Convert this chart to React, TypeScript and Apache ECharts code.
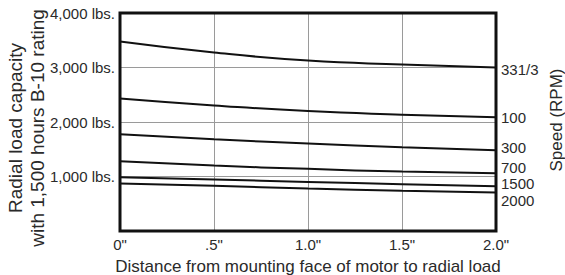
import React, { useEffect, useRef } from "react";
import * as echarts from "echarts";

const distances = [0, 0.5, 1.0, 1.5, 2.0];
const xTickLabels = ['0"', '.5"', '1.0"', '1.5"', '2.0"'];
const yTickLabels = ["", "1,000 lbs.", "2,000 lbs.", "3,000 lbs.", "4,000 lbs."];
const speedNames = ["331/3", "100", "300", "700", "1500", "2000"];
const rpm33 = [3475, 3274, 3128, 3055, 3000];
const rpm100 = [2433, 2305, 2200, 2135, 2085];
const rpm300 = [1774, 1683, 1605, 1537, 1482];
const rpm700 = [1280, 1200, 1140, 1090, 1060];
const rpm1500 = [988, 945, 900, 860, 823];
const rpm2000 = [873, 830, 780, 740, 708];
const seriesValues = [rpm33, rpm100, rpm300, rpm700, rpm1500, rpm2000];
const labelOffsets = [[0, 2], [0, 0], [0, -3], [0, -6], [0, -3], [0, 8]];

const FONT = "'Liberation Sans', Arial, sans-serif";
const TXT = "#2a2a2a";

export default function App() {
  const ref = useRef<HTMLDivElement>(null);
  useEffect(() => {
    const chart = echarts.init(ref.current!, null, { renderer: "svg" });
    chart.setOption({
      animation: false,
      textStyle: { fontFamily: FONT },
      grid: {
        left: 120,
        right: 69,
        top: 13,
        bottom: 44,
        show: true,
        borderColor: "#111",
        borderWidth: 3,
        z: 3,
      },
      xAxis: {
        type: "value",
        min: 0,
        max: 2,
        interval: 0.5,
        axisLine: { show: false },
        axisTick: { show: false },
        splitLine: { show: true, lineStyle: { color: "#9a9a9a", width: 1 } },
        axisLabel: {
          fontSize: 15,
          color: TXT,
          fontFamily: FONT,
          margin: 6,
          formatter: (v: number) => xTickLabels[Math.round(v / 0.5)] ?? "",
        },
      },
      yAxis: {
        type: "value",
        min: 0,
        max: 4000,
        interval: 1000,
        axisLine: { show: false },
        axisTick: { show: false },
        splitLine: { show: true, lineStyle: { color: "#9a9a9a", width: 1 } },
        axisLabel: {
          fontSize: 15,
          color: TXT,
          fontFamily: FONT,
          margin: 5,
          formatter: (v: number) => yTickLabels[Math.round(v / 1000)] ?? "",
        },
      },
      series: seriesValues.map((vals, i) => ({
        type: "line",
        name: speedNames[i],
        data: vals.map((v, j) => [distances[j], v]),
        smooth: 0.5,
        showSymbol: false,
        symbol: "none",
        lineStyle: { color: "#111", width: 2 },
        endLabel: {
          show: true,
          formatter: speedNames[i],
          fontSize: 15,
          lineHeight: 14,
          color: TXT,
          fontFamily: FONT,
          distance: 5,
          offset: labelOffsets[i],
        },
        z: 2,
      })),
      graphic: [
        {
          type: "text",
          x: 26,
          y: 128,
          rotation: Math.PI / 2,
          style: {
            text: "Radial load capacity\nwith 1,500 hours B-10 rating",
            fontSize: 19,
            lineHeight: 22,
            fontFamily: FONT,
            fill: TXT,
            textAlign: "center",
            textVerticalAlign: "middle",
          },
        },
        {
          type: "text",
          x: 556,
          y: 120,
          rotation: Math.PI / 2,
          style: {
            text: "Speed (RPM)",
            fontSize: 17,
            fontFamily: FONT,
            fill: TXT,
            textAlign: "center",
            textVerticalAlign: "middle",
          },
        },
        {
          type: "text",
          x: 308,
          y: 266,
          style: {
            text: "Distance from mounting face of motor to radial load",
            fontSize: 17,
            fontFamily: FONT,
            fill: TXT,
            textAlign: "center",
            textVerticalAlign: "middle",
          },
        },
      ],
    });
    return () => chart.dispose();
  }, []);
  return <div ref={ref} style={{ width: 565, height: 275, position: "absolute", left: 0, top: 0 }} />;
}
